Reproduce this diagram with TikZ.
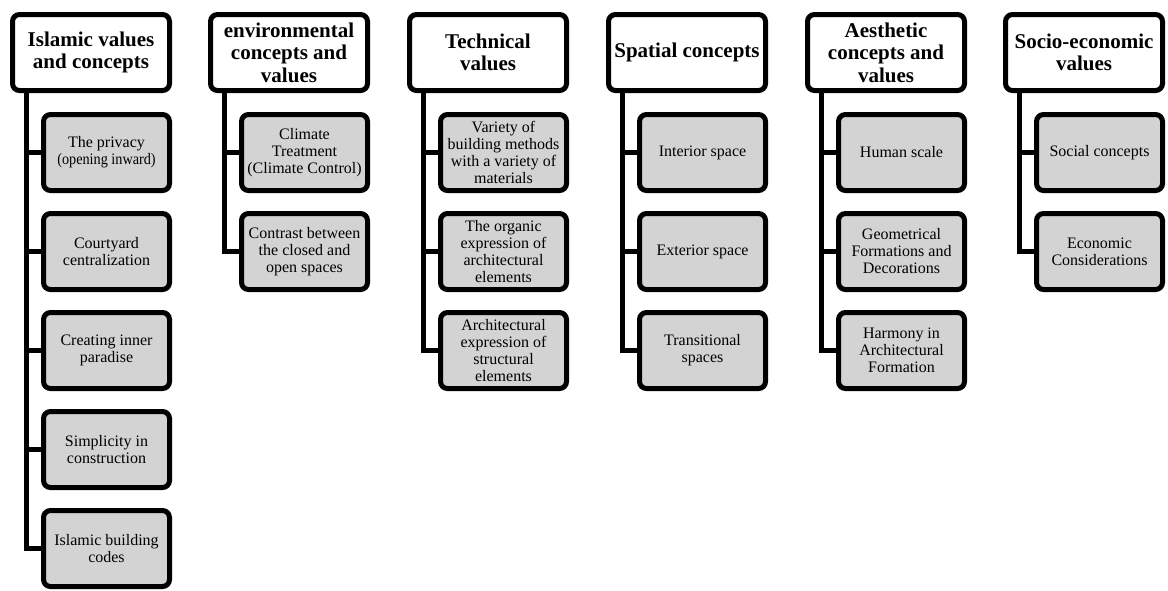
\documentclass[tikz,border=0pt]{standalone}
\usepackage{graphicx}
\usepackage{fontspec}
\setmainfont{Liberation Serif}
\definecolor{itemgray}{RGB}{211,211,211}
\tikzset{
  headbox/.style={draw=black, line width=5pt, rounded corners=7pt, fill=white,
    minimum width=157pt, minimum height=76pt, inner sep=0pt, outer sep=0pt,
    align=center, font=\fontsize{21}{22.5}\selectfont\bfseries},
  itembox/.style={draw=black, line width=5pt, rounded corners=7pt, fill=itemgray,
    minimum width=126pt, minimum height=76pt, inner sep=0pt, outer sep=0pt,
    align=center, font=\fontsize{16}{17}\selectfont},
  link/.style={draw=black, line width=5pt}
}
\begin{document}
\begin{tikzpicture}[x=1pt,y=-1pt]
\useasboundingbox (0,0) rectangle (1168,590);

% column headers
\node[headbox] (h1) at (91,52.5)   {Islamic values\\and concepts};
\node[headbox] (h2) at (289,52.5)  {environmental\\concepts and\\values};
\node[headbox] (h3) at (488,52.5)  {Technical\\values};
\node[headbox] (h4) at (687,52.5)  {Spatial concepts};
\node[headbox] (h5) at (886,52.5)  {Aesthetic\\concepts and\\values};
\node[headbox] (h6) at (1084,52.5) {Socio-economic\\values};

% Islamic values
\node[itembox] (c11) at (106.5,152.5) {The privacy\\\scalebox{0.89}[1]{(opening inward)}};
\node[itembox] (c12) at (106.5,251.5) {Courtyard\\centralization};
\node[itembox] (c13) at (106.5,350.5) {Creating inner\\paradise};
\node[itembox] (c14) at (106.5,449.5) {Simplicity in\\construction};
\node[itembox] (c15) at (106.5,548.5) {Islamic building\\codes};

% environmental
\node[itembox] (c21) at (304.5,152.5) {Climate\\Treatment\\(Climate Control)};
\node[itembox] (c22) at (304.5,251.5) {Contrast between\\the closed and\\open spaces};

% technical
\node[itembox] (c31) at (503.5,152.5) {Variety of\\building methods\\with a variety of\\materials};
\node[itembox] (c32) at (503.5,251.5) {The organic\\expression of\\architectural\\elements};
\node[itembox] (c33) at (503.5,350.5) {Architectural\\expression of\\structural\\elements};

% spatial
\node[itembox] (c41) at (702.5,152.5) {Interior space};
\node[itembox] (c42) at (702.5,251.5) {Exterior space};
\node[itembox] (c43) at (702.5,350.5) {Transitional\\spaces};

% aesthetic
\node[itembox] (c51) at (901.5,152.5) {Human scale};
\node[itembox] (c52) at (901.5,251.5) {Geometrical\\Formations and\\Decorations};
\node[itembox] (c53) at (901.5,350.5) {Harmony in\\Architectural\\Formation};

% socio-economic
\node[itembox] (c61) at (1099.5,152.5) {Social concepts};
\node[itembox] (c62) at (1099.5,251.5) {Economic\\Considerations};

% trunks and branches
\foreach \h/\last in {1/5,2/2,3/3,4/3,5/3,6/2}{
  \foreach \k in {1,...,\last}{
    \draw[link] ([xshift=13.5pt]h\h.south west) |- (c\h\k.west);
  }
}
\end{tikzpicture}
\end{document}
